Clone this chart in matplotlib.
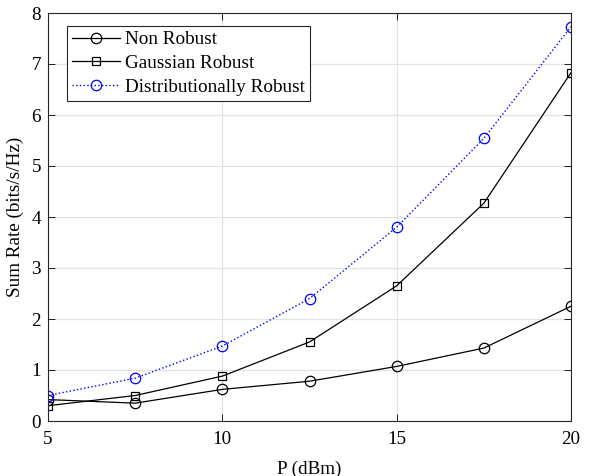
import matplotlib
matplotlib.use("Agg")
import matplotlib.pyplot as plt

power_dbm = [5, 7.5, 10, 12.5, 15, 17.5, 20]
non_robust = [0.42, 0.35, 0.62, 0.78, 1.07, 1.43, 2.25]
gaussian_robust = [0.30, 0.50, 0.88, 1.55, 2.65, 4.27, 6.83]
distributionally_robust = [0.50, 0.84, 1.47, 2.40, 3.80, 5.54, 7.73]

x_ticks = [5, 10, 15, 20]
y_ticks = [0, 1, 2, 3, 4, 5, 6, 7, 8]

plt.rcParams['font.family'] = ['Liberation Serif', 'DejaVu Serif']
plt.rcParams['mathtext.fontset'] = 'stix'

FS = 13.8

fig = plt.figure(figsize=(5.90, 4.76), dpi=100)
ax = fig.add_axes([48/590, 55/476, (571-48)/590, (421-13)/476])

ax.plot(power_dbm, non_robust, color='black', lw=0.9, marker='o', ms=7.5,
        mfc='none', mec='black', mew=0.9, label='Non Robust')
ax.plot(power_dbm, gaussian_robust, color='black', lw=0.9, marker='s', ms=5.8,
        mfc='none', mec='black', mew=0.9, label='Gaussian Robust')
ax.plot(power_dbm, distributionally_robust, color='blue', lw=1.0, ls=':', marker='o', ms=7.5,
        mfc='none', mec='blue', mew=0.9, label='Distributionally Robust')

ax.set_xlim(5, 20)
ax.set_ylim(0, 8)
ax.set_xticks(x_ticks)
ax.set_yticks(y_ticks)
ax.grid(True, color='#e3e3e3', lw=0.9)
ax.set_axisbelow(True)
ax.tick_params(direction='in', labelsize=FS, length=5, width=0.6, top=True, right=True)
ax.tick_params(axis='x', pad=7)
ax.tick_params(axis='y', pad=5)
for s in ax.spines.values():
    s.set_linewidth(0.8)
    s.set_color('#262626')

ax.set_xlabel('P (dBm)', fontsize=FS, labelpad=9)
ax.set_ylabel('Sum Rate (bits/s/Hz)', fontsize=FS, labelpad=5)

leg = ax.legend(loc='upper left', bbox_to_anchor=(0.036, 0.968), borderaxespad=0,
                fontsize=FS, fancybox=False, edgecolor='#262626',
                framealpha=1, borderpad=0.25, labelspacing=0.33, handlelength=2.5,
                handletextpad=0.3)
leg.get_frame().set_linewidth(0.8)

fig.savefig('out.png', dpi=100)
